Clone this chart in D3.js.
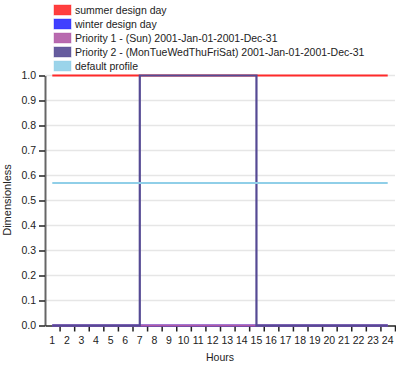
<!DOCTYPE html>
<html><head><meta charset="utf-8">
<script src="https://cdn.jsdelivr.net/npm/d3@7"></script>
<style>body{margin:0;background:#fff}svg,svg text{font-family:"Liberation Sans",Arial,sans-serif}</style>
</head><body><svg id="c" width="396" height="367"></svg>
<script>
const hours = d3.range(1, 25);
const seriesNames = ["summer design day","winter design day","Priority 1 - (Sun) 2001-Jan-01-2001-Dec-31","Priority 2 - (MonTueWedThuFriSat) 2001-Jan-01-2001-Dec-31","default profile"];
const seriesColors = ["#ff2a2a","#2a2aff","#b05aa6","#554a94","#90cfe8"];
const summerValues = [1,1,1,1,1,1,1,1,1,1,1,1,1,1,1,1,1,1,1,1,1,1,1,1];
const winterValues = [0,0,0,0,0,0,0,0,0,0,0,0,0,0,0,0,0,0,0,0,0,0,0,0];
const priority1Values = [0,0,0,0,0,0,0,0,0,0,0,0,0,0,0,0,0,0,0,0,0,0,0,0];
const priority2Values = [0,0,0,0,0,0,1,1,1,1,1,1,1,1,0,0,0,0,0,0,0,0,0,0];
const defaultValues = [0.57,0.57,0.57,0.57,0.57,0.57,0.57,0.57,0.57,0.57,0.57,0.57,0.57,0.57,0.57,0.57,0.57,0.57,0.57,0.57,0.57,0.57,0.57,0.57];
const yTicks = [0,0.1,0.2,0.3,0.4,0.5,0.6,0.7,0.8,0.9,1.0];
const xLabel = "Hours", yLabel = "Dimensionless";
const allValues = [summerValues, winterValues, priority1Values, priority2Values, defaultValues];

const svg = d3.select("#c");
const x = d3.scaleLinear().domain([0,24]).range([45,395]);
const y = d3.scaleLinear().domain([0,1]).range([325.5,75.5]);

// grid
svg.append("g").selectAll("line").data(yTicks.slice(1)).join("line")
  .attr("x1",45).attr("x2",395).attr("y1",d=>y(d)).attr("y2",d=>y(d))
  .attr("stroke","#e6e6e6").attr("stroke-width",1.5);

// y axis
const ya = svg.append("g").attr("transform","translate(45,0)")
  .call(d3.axisLeft(y).tickValues(yTicks).tickFormat(d3.format(".1f")).tickSize(6).tickSizeOuter(0))
  .attr("font-family",null).attr("font-size",null);
ya.select(".domain").attr("stroke","#666").attr("stroke-width",2);
ya.selectAll(".tick line").attr("stroke","#222").attr("stroke-width",1.5);
ya.selectAll("text").attr("font-size",10.5).attr("fill","#222");

// x axis
const xa = svg.append("g").attr("transform","translate(0,325.5)")
  .call(d3.axisBottom(x).tickValues(hours).tickFormat("").tickSize(6).tickSizeOuter(0))
  .attr("font-family",null).attr("font-size",null);
xa.select(".domain").attr("stroke","#222").attr("stroke-width",1.5);
xa.selectAll(".tick line").attr("stroke","#222").attr("stroke-width",1.5);
svg.append("g").selectAll("text").data(hours).join("text")
  .attr("x",d=>x(d-0.5)).attr("y",343.5).attr("text-anchor","middle")
  .attr("font-size",10.5).attr("fill","#222").text(d=>d);

svg.append("text").attr("x",220).attr("y",361).attr("text-anchor","middle")
  .attr("font-size",10.5).attr("fill","#222").text(xLabel);
svg.append("text").attr("transform","translate(11,200) rotate(-90)").attr("text-anchor","middle")
  .attr("font-size",11).attr("fill","#222").text(yLabel);

// lines
const line = d3.line().x((d,i)=>x(hours[i]-0.5)).y(d=>y(d)).curve(d3.curveStepAfter);
svg.append("g").selectAll("path").data(allValues).join("path")
  .attr("d",line).attr("fill","none")
  .attr("stroke",(d,i)=>seriesColors[i]).attr("stroke-width",2.2);

// legend
const lg = svg.append("g").selectAll("g").data(seriesNames).join("g")
  .attr("transform",(d,i)=>`translate(54,${5+i*14})`);
lg.append("rect").attr("width",17).attr("height",10)
  .attr("fill",(d,i)=>seriesColors[i]).attr("fill-opacity",0.9)
  .attr("stroke",(d,i)=>seriesColors[i]).attr("stroke-opacity",0.4).attr("stroke-width",1);
lg.append("text").attr("x",21).attr("y",9).attr("font-size",10.5).attr("fill","#222").text(d=>d);
</script></body></html>
